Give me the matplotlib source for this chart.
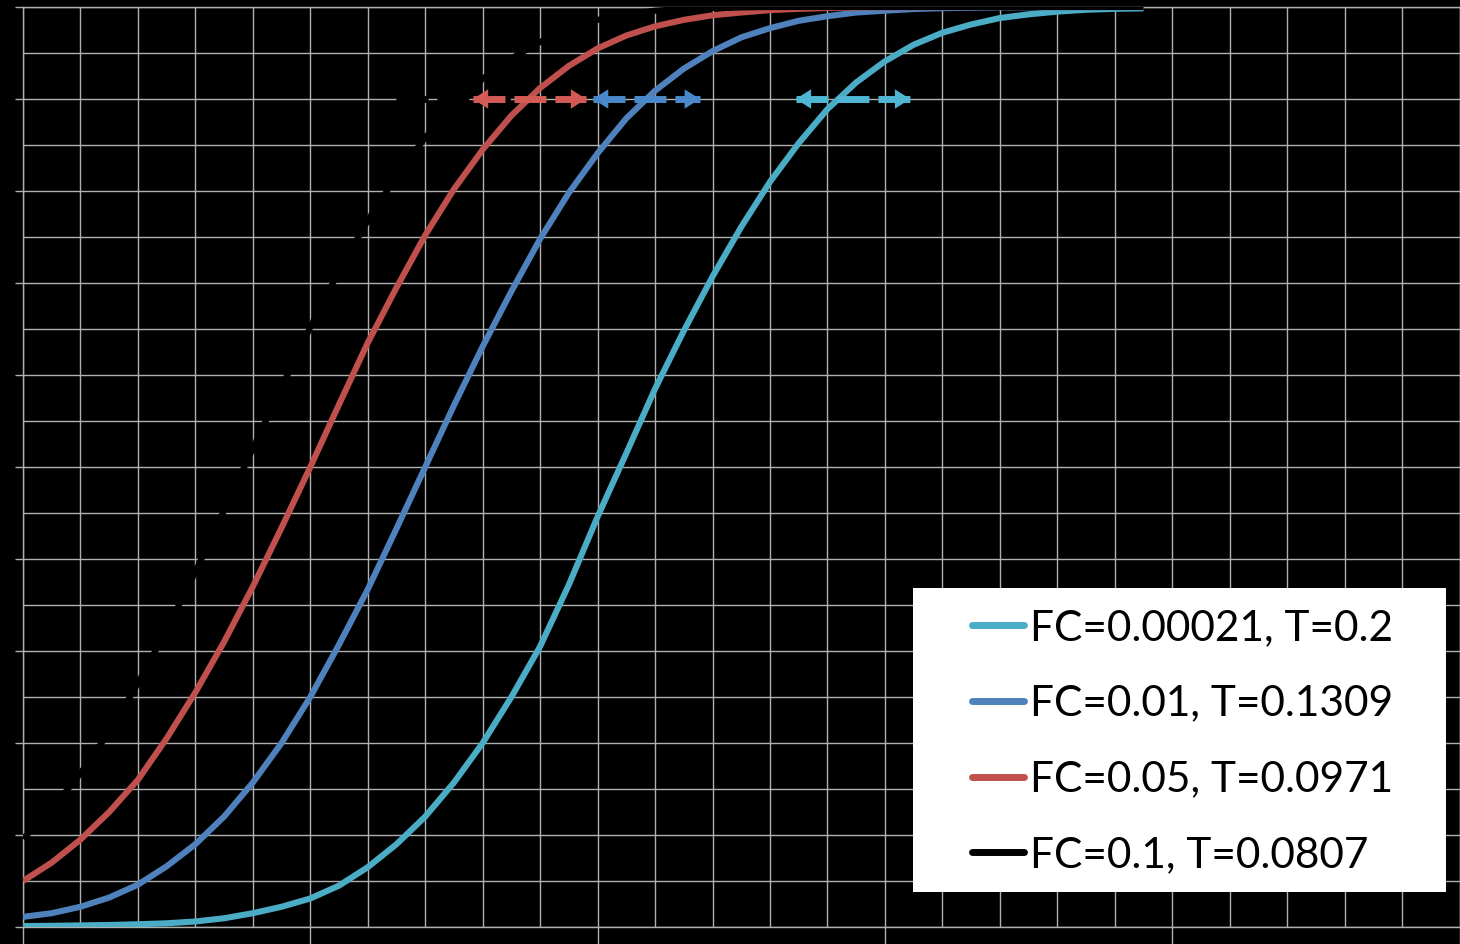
import numpy as np
import matplotlib
matplotlib.use("Agg")
import matplotlib.pyplot as plt
import matplotlib.patches as patches

plt.rcParams['font.family'] = ['Lato', 'DejaVu Sans']

# x positions (grid units, one unit per minor gridline)
x = np.arange(0, 19.6, 0.5)

labels = ["FC=0.00021, T=0.2", "FC=0.01, T=0.1309",
          "FC=0.05, T=0.0971", "FC=0.1, T=0.0807"]
colors = ["#4bacc6", "#4f81bd", "#c0504d", "#000000"]
arrow_colors = ["#4fb6d3", "#4a88cc", "#d35a55", "#000000"]

cyan = [0.001, 0.0013, 0.0017, 0.0022, 0.003, 0.004, 0.006, 0.0095, 0.015, 0.022,
        0.031, 0.045, 0.065, 0.09, 0.12, 0.157, 0.2, 0.25, 0.305, 0.372,
        0.446, 0.515, 0.585, 0.648, 0.707, 0.761, 0.81, 0.852, 0.889, 0.918,
        0.941, 0.959, 0.972, 0.981, 0.988, 0.992, 0.995, 0.997, 0.998, 0.9985]
blue = [0.011, 0.015, 0.022, 0.032, 0.046, 0.066, 0.09, 0.12, 0.157, 0.2,
        0.25, 0.307, 0.367, 0.433, 0.5, 0.567, 0.631, 0.691, 0.748, 0.798,
        0.841, 0.879, 0.909, 0.933, 0.952, 0.967, 0.977, 0.985, 0.99, 0.994,
        0.996, 0.9978, 0.9987, 0.9992, 0.9995, 0.9997, 0.9998, 0.9999, 0.9999, 1.0]
red = [0.05, 0.07, 0.095, 0.125, 0.16, 0.205, 0.255, 0.31, 0.37, 0.434,
       0.5, 0.568, 0.635, 0.695, 0.752, 0.802, 0.845, 0.882, 0.912, 0.936,
       0.955, 0.969, 0.979, 0.986, 0.991, 0.994, 0.9966, 0.998, 0.9989, 0.9994,
       0.9997, 0.9998, 0.9999, 1.0, 1.0, 1.0, 1.0, 1.0, 1.0, 1.0]
black = [0.096, 0.128, 0.167, 0.212, 0.265, 0.323, 0.386, 0.453, 0.52, 0.587,
         0.652, 0.713, 0.768, 0.816, 0.858, 0.893, 0.922, 0.944, 0.962, 0.976,
         0.986, 0.992, 0.996, 0.998, 0.999, 0.9995, 1.0, 1.0, 1.0, 1.0,
         1.0, 1.0, 1.0, 1.0, 1.0, 1.0, 1.0, 1.0, 1.0, 1.0]
series = [cyan, blue, red, black]

# double arrows at the 0.9 level (start, end)
arrow_level = 0.9
arrow_spans = [(13.45, 15.44), (9.92, 11.78), (7.83, 9.8), (6.5, 8.5)]

grid_c = "#b0b0b0"

fig = plt.figure(figsize=(14.6, 9.44), dpi=100, facecolor="black")
ax = fig.add_axes([23 / 1460, 17 / 944, 1436.5 / 1460, 920 / 944])
ax.set_facecolor("black")

lines = []
for vals, c, lab in zip(series, colors, labels):
    ln, = ax.plot(x, vals, color=c, lw=4.4, label=lab, zorder=3,
                  solid_capstyle="butt", solid_joinstyle="round")
    lines.append(ln)


def double_arrow(x0, x1, y, c, z):
    ax.plot([x0, x1], [y, y], color=c, lw=5, ls=(0, (4.6, 1.3)),
            dash_capstyle="butt", zorder=z)
    for tip, tail in ((x0, x0 + 0.35), (x1, x1 - 0.35)):
        ax.annotate("", xy=(tip, y), xytext=(tail, y), zorder=z,
                    arrowprops=dict(arrowstyle="-|>,head_length=1.1,head_width=0.7",
                                    color=c, lw=0, shrinkA=0, shrinkB=0))


# black one first so the red arrow sits on top of it
for i in [3, 2, 1, 0]:
    double_arrow(arrow_spans[i][0], arrow_spans[i][1], arrow_level, arrow_colors[i], 4)

ax.set_xlim(0, 25)
ax.set_ylim(0, 1)
ax.set_xticks(np.arange(0, 26, 5))
ax.set_xticks(np.arange(0, 26, 1), minor=True)
ax.set_yticks(np.arange(0, 1.01, 0.1))
ax.set_yticks(np.arange(0, 1.01, 0.05), minor=True)
ax.grid(True, which="both", color=grid_c, lw=1.0)
ax.set_axisbelow(True)
ax.tick_params(which="both", labelbottom=False, labelleft=False, color=grid_c, width=1.0)
ax.tick_params(axis="x", which="major", length=13, direction="out")
ax.tick_params(axis="y", which="major", length=6, direction="out")
ax.tick_params(which="minor", length=0)
for s in ax.spines.values():
    s.set_color(grid_c)
    s.set_linewidth(1.0)

# white legend panel
panel = patches.Rectangle((913 / 1460, 1 - 892 / 944), 533 / 1460, 304 / 944,
                          transform=fig.transFigure, facecolor="white",
                          edgecolor="none", zorder=9, clip_on=False)
ax.add_patch(panel)

leg = ax.legend(handles=lines, loc="upper left",
                bbox_to_anchor=(971.5 / 1460, 1 - 609 / 944),
                bbox_transform=fig.transFigure, frameon=False,
                fontsize=30.5, borderpad=0, borderaxespad=0,
                handlelength=1.23, handletextpad=0.15, labelspacing=0.89)
leg.set_zorder(10)
for h in leg.legend_handles:
    h.set_linewidth(5)
    h.set_solid_capstyle("round")
for t in leg.get_texts():
    t.set_color("black")

fig.savefig("out.png", dpi=100, facecolor="black")
